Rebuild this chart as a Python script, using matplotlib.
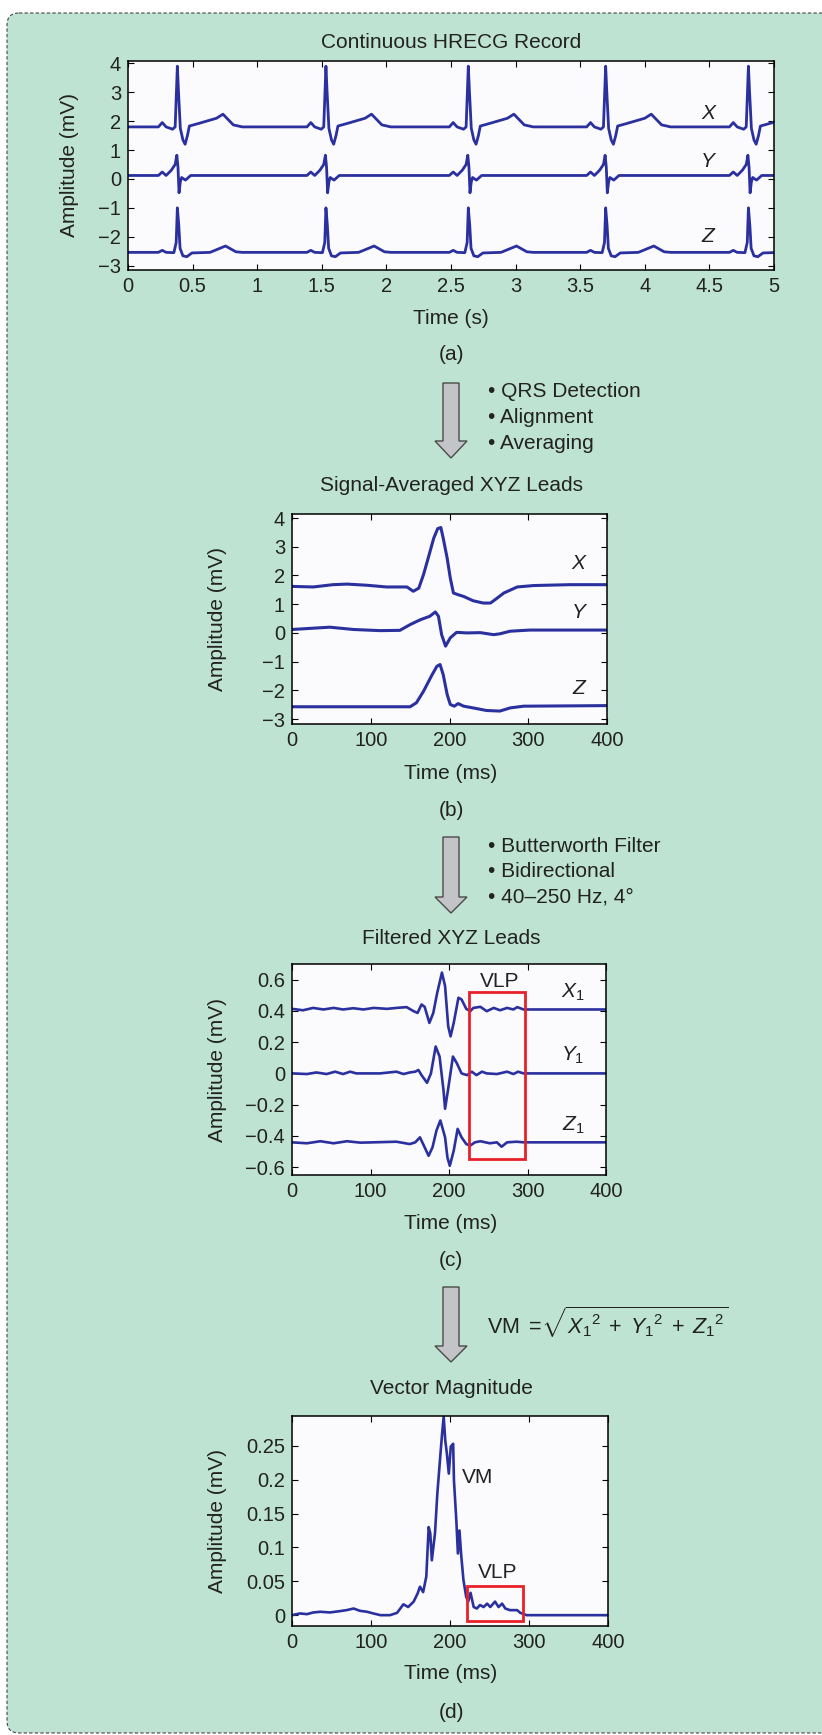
"""
HRECG processing chain: raw record -> signal average -> filtered leads -> vector magnitude
"""
import matplotlib
matplotlib.use('Agg')
import matplotlib.pyplot as plt
from matplotlib.patches import FancyBboxPatch, Polygon, Rectangle

W, H = 822, 1735
LINE = '#2b309f'
TXT = '#222222'
GREEN = '#bee3d2'
RED = '#e8202a'
MINUS = '\u2212'

plt.rcParams['font.family'] = ['Liberation Sans', 'DejaVu Sans']
plt.rcParams['mathtext.fontset'] = 'custom'
plt.rcParams['mathtext.rm'] = 'Liberation Sans'
plt.rcParams['mathtext.it'] = 'Liberation Sans:italic'

# ---- (a) continuous record: R-peak times (s) and one beat shape per lead
R_TIMES = [0.385, 1.535, 2.637, 3.700, 4.805]
X_OFS = [-0.15, -0.12, -0.09, -0.04, -0.02, -0.003, 0.006, 0.02, 0.04, 0.057, 0.075, 0.09, 0.17, 0.3, 0.35, 0.43, 0.5]
X_VAL = [1.8, 1.95, 1.8, 1.72, 1.8, 3.9, 3.0, 1.75, 1.35, 1.2, 1.5, 1.83, 1.93, 2.1, 2.24, 1.87, 1.8]
Y_OFS = [-0.15, -0.12, -0.09, -0.05, -0.02, -0.007, 0.002, 0.01, 0.02, 0.03, 0.06, 0.1, 0.5]
Y_VAL = [0.12, 0.24, 0.12, 0.3, 0.5, 0.82, 0.4, -0.48, -0.1, 0.05, -0.04, 0.12, 0.12]
Z_OFS = [-0.15, -0.12, -0.09, -0.03, -0.012, -0.003, 0.008, 0.018, 0.04, 0.07, 0.11, 0.25, 0.37, 0.45, 0.5]
Z_VAL = [-2.54, -2.47, -2.54, -2.55, -2.2, -1.0, -1.6, -2.4, -2.66, -2.69, -2.56, -2.54, -2.32, -2.52, -2.54]
BASE_A = {'X': 1.8, 'Y': 0.12, 'Z': -2.54}

# ---- (b) signal-averaged leads (ms, mV)
B_X_T = [0, 27, 52, 70, 95, 120, 146, 154, 161, 167, 173, 180, 185, 189, 192, 197, 201, 205, 211, 218,
         230, 243, 252, 258, 269, 286, 307, 353, 400]
B_X_V = [1.62, 1.60, 1.68, 1.70, 1.66, 1.60, 1.60, 1.45, 1.56, 2.03, 2.61, 3.30, 3.63, 3.67, 3.30, 2.61,
         1.91, 1.39, 1.33, 1.27, 1.12, 1.04, 1.04, 1.16, 1.39, 1.60, 1.65, 1.68, 1.68]
B_Y_T = [0, 48, 78, 112, 137, 150, 163, 175, 182, 186, 190, 195, 201, 209, 222, 239, 256, 264, 277, 302, 400]
B_Y_V = [0.12, 0.20, 0.12, 0.08, 0.09, 0.29, 0.46, 0.58, 0.73, 0.58, -0.06, -0.46, -0.17, 0.02, 0.00,
         0.01, -0.06, -0.03, 0.06, 0.10, 0.10]
B_Z_T = [0, 69, 150, 158, 167, 178, 184, 188, 192, 197, 201, 206, 211, 218, 230, 247, 264, 277, 294, 400]
B_Z_V = [-2.57, -2.57, -2.57, -2.43, -2.03, -1.45, -1.16, -1.10, -1.45, -2.14, -2.49, -2.55, -2.46,
         -2.55, -2.61, -2.70, -2.72, -2.61, -2.55, -2.53]

# ---- (c) filtered leads (ms, mV)
C_X_T = [0, 14, 27, 40, 53, 65, 78, 91, 104, 121, 133, 146, 155, 160, 165, 169, 175, 180, 185, 191,
         195, 199, 202, 206, 212, 216, 222, 227, 231, 240, 248, 257, 265, 274, 282, 287, 295, 400]
C_X_V = [0.413, 0.404, 0.419, 0.409, 0.419, 0.409, 0.417, 0.409, 0.419, 0.413, 0.419, 0.424, 0.398,
         0.387, 0.441, 0.426, 0.323, 0.387, 0.516, 0.645, 0.559, 0.301, 0.237, 0.323, 0.484, 0.473,
         0.413, 0.398, 0.419, 0.426, 0.398, 0.419, 0.404, 0.419, 0.409, 0.424, 0.409, 0.409]
C_Y_T = [0, 19, 31, 44, 55, 65, 74, 82, 112, 133, 142, 150, 157, 161, 165, 172, 177, 183, 188, 193,
         195, 199, 205, 210, 216, 223, 229, 235, 242, 248, 261, 274, 282, 288, 295, 400]
C_Y_V = [0, -0.004, 0.006, -0.004, 0.011, -0.004, 0.011, 0, 0, 0.011, -0.004, 0.006, 0.011, 0.022,
         -0.011, -0.060, 0, 0.172, 0.108, -0.108, -0.226, -0.097, 0.108, 0.065, 0, -0.011, 0.011,
         -0.011, 0.011, 0, -0.004, 0.011, -0.004, 0.011, 0, 0]
C_Z_T = [0, 19, 36, 53, 70, 87, 104, 133, 150, 157, 163, 169, 174, 179, 184, 189, 195, 198, 201, 206,
         211, 216, 222, 227, 233, 240, 252, 261, 267, 274, 286, 295, 400]
C_Z_V = [-0.441, -0.447, -0.434, -0.447, -0.434, -0.443, -0.441, -0.437, -0.452, -0.441, -0.409,
         -0.473, -0.527, -0.473, -0.366, -0.301, -0.409, -0.538, -0.591, -0.495, -0.355, -0.409,
         -0.452, -0.462, -0.441, -0.434, -0.447, -0.441, -0.469, -0.441, -0.437, -0.441, -0.441]

# ---- (d) vector magnitude (ms, mV)
D_T = [0, 10, 19, 27, 36, 48, 61, 69, 78, 86, 95, 103, 112, 124, 133, 141, 147, 154, 159, 162, 166,
       170, 173, 175, 177, 181, 184, 188, 190, 192, 194, 196, 198.5, 201, 204, 205, 208, 210, 212, 214,
       217, 220.5, 223, 226, 230, 234, 238, 242.5, 247, 251, 257, 261.5, 266, 270, 276, 285, 289, 297, 400]
D_V = [0, 0.0025, 0.0015, 0.004, 0.005, 0.004, 0.006, 0.0074, 0.0098, 0.0064, 0.005, 0.0025, 0, 0,
       0.0034, 0.016, 0.012, 0.020, 0.032, 0.042, 0.034, 0.057, 0.130, 0.121, 0.081, 0.121, 0.180,
       0.239, 0.268, 0.293, 0.258, 0.239, 0.209, 0.249, 0.253, 0.199, 0.140, 0.091, 0.125, 0.091,
       0.052, 0.027, 0.020, 0.033, 0.012, 0.0098, 0.015, 0.012, 0.017, 0.012, 0.020, 0.012, 0.017,
       0.0098, 0.0074, 0.0074, 0.0034, 0, 0]

# VLP windows (x0, y0, x1, y1) in data units
VLP_C = (225, -0.55, 297, 0.52)
VLP_D = (221, -0.009, 292, 0.043)

A_XTICKS = [0, 0.5, 1, 1.5, 2, 2.5, 3, 3.5, 4, 4.5, 5]
A_XLABELS = ['0', '0.5', '1', '1.5', '2', '2.5', '3', '3.5', '4', '4.5', '5']
AB_YTICKS = [-3, -2, -1, 0, 1, 2, 3, 4]
AB_YLABELS = [MINUS + '3', MINUS + '2', MINUS + '1', '0', '1', '2', '3', '4']
MS_TICKS = [0, 100, 200, 300, 400]
C_YTICKS = [-0.6, -0.4, -0.2, 0, 0.2, 0.4, 0.6]
C_YLABELS = [MINUS + '0.6', MINUS + '0.4', MINUS + '0.2', '0', '0.2', '0.4', '0.6']
D_YTICKS = [0, 0.05, 0.1, 0.15, 0.2, 0.25]
D_YLABELS = ['0', '0.05', '0.1', '0.15', '0.2', '0.25']


def beat_trace(r_times, ofs, vals, base):
    t, v = [0.0], [base]
    for r in r_times:
        t += [r + o for o in ofs]
        v += vals
    t.append(5.6)
    v.append(base)
    return t, v


def px_axes(fig, left, top, right, bottom):
    return fig.add_axes([left / W, 1 - bottom / H, (right - left) / W, (bottom - top) / H])


def style(ax):
    ax.set_facecolor('#fbfbfd')
    for s in ax.spines.values():
        s.set_linewidth(1.1)
        s.set_color('black')
    ax.tick_params(direction='in', top=True, right=True, length=4, width=0.8,
                   labelsize=14.5, pad=5, labelcolor=TXT)


fig = plt.figure(figsize=(W / 100, H / 100), dpi=100)
fig.patch.set_facecolor('white')

# background layer in pixel coords
bg = fig.add_axes([0, 0, 1, 1], zorder=-1)
bg.set_xlim(0, W)
bg.set_ylim(H, 0)
bg.axis('off')
bg.add_patch(FancyBboxPatch((7, 13), 830, 1720, boxstyle='round,pad=0,rounding_size=12',
                            fc=GREEN, ec='#444444', lw=0.8, ls=(0, (3, 2)), clip_on=True))


def label(x, y, s, **kw):
    kw.setdefault('fontsize', 15)
    kw.setdefault('ha', 'center')
    bg.text(x, y, s, va='center', color=TXT, **kw)


def arrow(y0, yh, yt):
    pts = [(443, y0), (459, y0), (459, yh), (467, yh), (451, yt), (435, yh), (443, yh)]
    bg.add_patch(Polygon(pts, closed=True, fc='#c3c4c8', ec='#4a4a4a', lw=1.0))


# titles / axis labels / panel letters
for y, s in [(42, 'Continuous HRECG Record'), (485, 'Signal-Averaged XYZ Leads'),
             (938, 'Filtered XYZ Leads'), (1388, 'Vector Magnitude')]:
    label(451, y, s)
for y, s in [(318, 'Time (s)'), (773, 'Time (ms)'), (1223, 'Time (ms)'), (1673, 'Time (ms)')]:
    label(451, y, s)
for y, s in [(355, '(a)'), (810, '(b)'), (1260, '(c)'), (1712, '(d)')]:
    label(451, y, s)
for x, y in [(69, 165), (217, 619), (217, 1070), (217, 1521)]:
    label(x, y, 'Amplitude (mV)', rotation=90)

arrow(383, 441, 458)
arrow(837, 897, 913)
arrow(1287, 1346, 1362)
for y, s in [(391, '\u2022 QRS Detection'), (417, '\u2022 Alignment'), (443, '\u2022 Averaging'),
             (846, '\u2022 Butterworth Filter'), (871, '\u2022 Bidirectional'),
             (897, '\u2022 40\u2013250 Hz, 4\u00b0')]:
    label(488, y, s, ha='left')
label(487, 1322, r'VM $=\!\sqrt{X_1{}^{2}\; +\; Y_1{}^{2}\; +\; Z_1{}^{2}}$', ha='left', fontsize=15.5)

# ---- (a)
ax = px_axes(fig, 128, 61, 774, 270)
style(ax)
for lead, ofs, vals in [('X', X_OFS, X_VAL), ('Y', Y_OFS, Y_VAL), ('Z', Z_OFS, Z_VAL)]:
    t, v = beat_trace(R_TIMES, ofs, vals, BASE_A[lead])
    ax.plot(t, v, color=LINE, lw=2.0)
ax.set_xlim(0, 5)
ax.set_ylim(-3.15, 4.08)
ax.set_xticks(A_XTICKS, A_XLABELS)
ax.set_yticks(AB_YTICKS, AB_YLABELS)
for s, y in [('X', 2.28), ('Y', 0.59), ('Z', -2.0)]:
    ax.text(4.49, y, s, style='italic', fontsize=15, ha='center', va='center', color=TXT)

# ---- (b)
ax = px_axes(fig, 292, 514, 607, 724)
style(ax)
for t, v in [(B_X_T, B_X_V), (B_Y_T, B_Y_V), (B_Z_T, B_Z_V)]:
    ax.plot(t, v, color=LINE, lw=2.2)
ax.set_xlim(0, 400)
ax.set_ylim(-3.17, 4.14)
ax.set_xticks(MS_TICKS)
ax.set_yticks(AB_YTICKS, AB_YLABELS)
for s, y in [('X', 2.4), ('Y', 0.72), ('Z', -1.92)]:
    ax.text(364, y, s, style='italic', fontsize=15, ha='center', va='center', color=TXT)

# ---- (c)
ax = px_axes(fig, 292, 964, 606, 1175)
style(ax)
for t, v in [(C_X_T, C_X_V), (C_Y_T, C_Y_V), (C_Z_T, C_Z_V)]:
    ax.plot(t, v, color=LINE, lw=1.9)
ax.add_patch(Rectangle((VLP_C[0], VLP_C[1]), VLP_C[2] - VLP_C[0], VLP_C[3] - VLP_C[1],
                       fill=False, ec=RED, lw=2.0, zorder=3))
ax.set_xlim(0, 400)
ax.set_ylim(-0.65, 0.70)
ax.set_xticks(MS_TICKS)
ax.set_yticks(C_YTICKS, C_YLABELS)
for s, y in [('$X_1$', 0.517), ('$Y_1$', 0.113), ('$Z_1$', -0.33)]:
    ax.text(358, y, s, fontsize=15, ha='center', va='center', color=TXT)
ax.text(264, 0.59, 'VLP', fontsize=15, ha='center', va='center', color=TXT)

# ---- (d)
ax = px_axes(fig, 292, 1416, 608, 1626)
style(ax)
ax.plot(D_T, D_V, color=LINE, lw=1.9)
ax.add_patch(Rectangle((VLP_D[0], VLP_D[1]), VLP_D[2] - VLP_D[0], VLP_D[3] - VLP_D[1],
                       fill=False, ec=RED, lw=2.0, zorder=3))
ax.set_xlim(0, 400)
ax.set_ylim(-0.016, 0.294)
ax.set_xticks(MS_TICKS)
ax.set_yticks(D_YTICKS, D_YLABELS)
ax.text(235, 0.203, 'VM', fontsize=15, ha='center', va='center', color=TXT)
ax.text(260, 0.063, 'VLP', fontsize=15, ha='center', va='center', color=TXT)

plt.savefig('out.png', dpi=100, facecolor='white')
plt.close()
